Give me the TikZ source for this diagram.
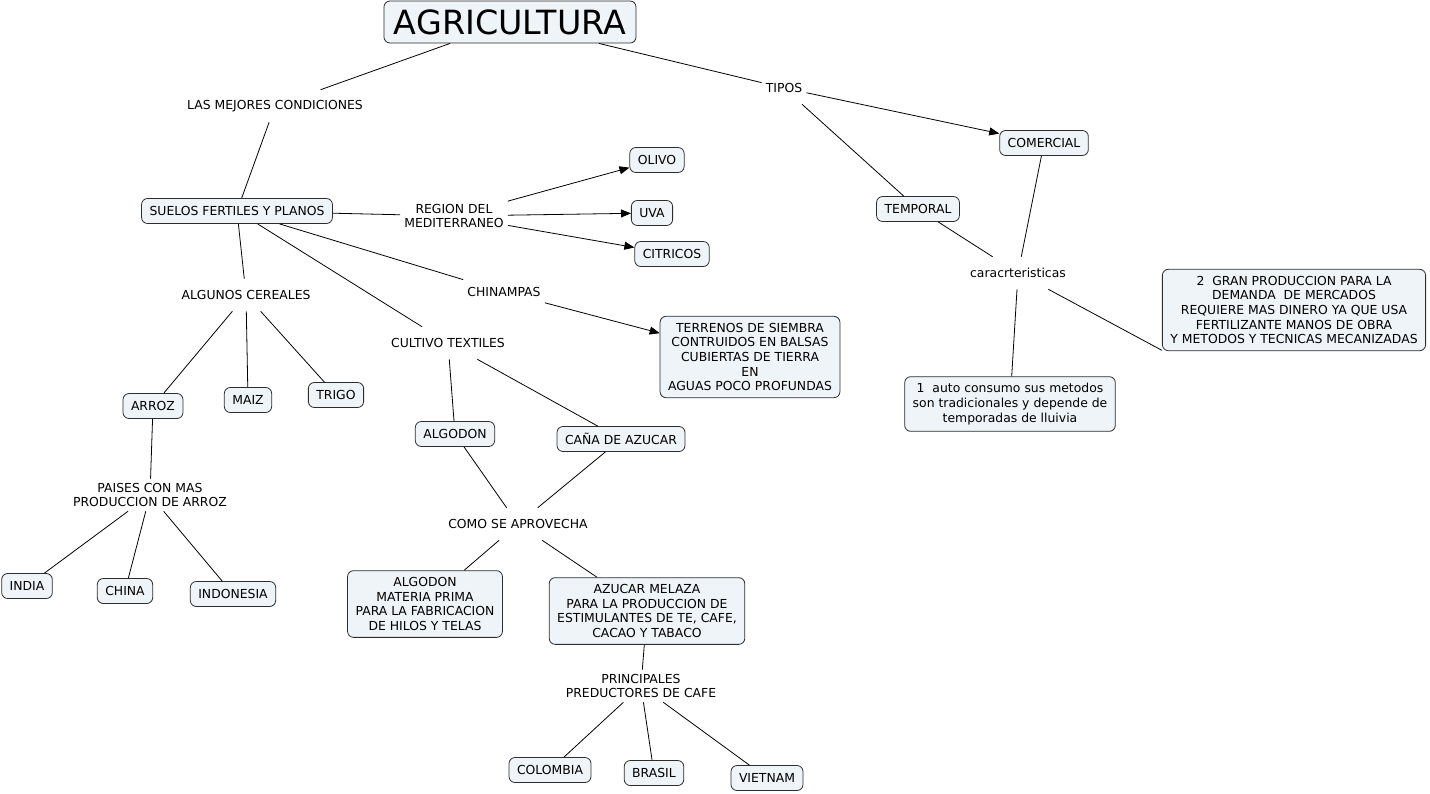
\documentclass[tikz,border=0pt]{standalone}
\usepackage{fontspec}
\setmainfont{DejaVu Sans}
\usetikzlibrary{arrows.meta}
\definecolor{boxfill}{RGB}{238,244,247}
\definecolor{boxline}{RGB}{45,45,45}
\tikzset{
  concept/.style={draw=boxline, fill=boxfill, rounded corners=4.5pt, line width=0.6pt,
    inner xsep=6pt, inner ysep=5pt, minimum height=18.75pt, align=center,
    font=\fontsize{9.3}{11}\selectfont},
  link/.style={inner xsep=3pt, inner ysep=1pt, minimum height=24pt, align=center,
    font=\fontsize{9.3}{11}\selectfont},
  conn/.style={draw=black, line width=0.6pt},
  arr/.style={conn, -{Triangle[length=7.5pt,width=6pt]}}
}
\begin{document}
\begin{tikzpicture}[x=0.75pt,y=-0.75pt]
\useasboundingbox (0,0) rectangle (1430,793);
% concepts
\node[concept, font=\fontsize{25}{29}\selectfont, inner xsep=7.5pt, inner ysep=3pt, minimum height=31.5pt] (agri) at (510,22) {AGRICULTURA};
\node[link] (mejores) at (275,106) {LAS MEJORES CONDICIONES};
\node[link] (tipos) at (784,88) {TIPOS};
\node[concept] (comercial) at (1044,143) {COMERCIAL};
\node[concept] (temporal) at (918,209) {TEMPORAL};
\node[link] (caract) at (1018,273) {caracrteristicas};
\node[concept] (dos) at (1294,310) {2\ \ GRAN PRODUCCION PARA LA\\DEMANDA\ \ DE MERCADOS\\REQUIERE MAS DINERO YA QUE USA\\FERTILIZANTE MANOS DE OBRA\\Y METODOS Y TECNICAS MECANIZADAS};
\node[concept] (uno) at (1010,404) {1\ \ auto consumo sus metodos\\son tradicionales y depende de\\temporadas de lluivia};
\node[concept] (suelos) at (237,211) {SUELOS FERTILES Y PLANOS};
\node[link] (region) at (454,216) {REGION DEL\\MEDITERRANEO};
\node[concept] (olivo) at (657,160) {OLIVO};
\node[concept] (uva) at (652,213) {UVA};
\node[concept] (citricos) at (672,254) {CITRICOS};
\node[link] (chinampas) at (504,292) {CHINAMPAS};
\node[concept] (terrenos) at (750,357) {TERRENOS DE SIEMBRA\\CONTRUIDOS EN BALSAS\\CUBIERTAS DE TIERRA\\EN\\AGUAS POCO PROFUNDAS};
\node[link] (cereales) at (246,295) {ALGUNOS CEREALES};
\node[link] (textiles) at (448,343) {CULTIVO TEXTILES};
\node[concept] (arroz) at (153,406) {ARROZ};
\node[concept] (maiz) at (248,400) {MAIZ};
\node[concept] (trigo) at (336,395) {TRIGO};
\node[link] (paises) at (150,495) {PAISES CON MAS\\PRODUCCION DE ARROZ};
\node[concept] (india) at (27,586) {INDIA};
\node[concept] (china) at (125,591) {CHINA};
\node[concept] (indonesia) at (233,594) {INDONESIA};
\node[concept] (algodon) at (455,434) {ALGODON};
\node[concept] (cana) at (621,439) {CAÑA DE AZUCAR};
\node[link] (como) at (518,524) {COMO SE APROVECHA};
\node[concept] (materia) at (425,604) {ALGODON\\MATERIA PRIMA\\PARA LA FABRICACION\\DE HILOS Y TELAS};
\node[concept] (azucar) at (647,611) {AZUCAR MELAZA\\PARA LA PRODUCCION DE\\ESTIMULANTES DE TE, CAFE,\\CACAO Y TABACO};
\node[link] (principales) at (641,686) {PRINCIPALES\\PREDUCTORES DE CAFE};
\node[concept] (colombia) at (550,770) {COLOMBIA};
\node[concept] (brasil) at (654,773) {BRASIL};
\node[concept] (vietnam) at (767,778) {VIETNAM};
% connectors
\draw[conn] (agri) -- (mejores);
\draw[conn] (mejores) -- (suelos);
\draw[conn] (agri) -- (tipos);
\draw[arr] (tipos) -- (comercial);
\draw[conn] (tipos) -- (temporal);
\draw[conn] (temporal) -- (caract);
\draw[conn] (comercial) -- (caract);
\draw[conn] (caract) -- (dos.197);
\draw[conn] (caract) -- (uno);
\draw[conn] (suelos) -- (region);
\draw[arr] (region) -- (olivo);
\draw[arr] (region) -- (uva);
\draw[arr] (region) -- (citricos);
\draw[conn] (suelos) -- (chinampas);
\draw[arr] (chinampas) -- (terrenos);
\draw[conn] (suelos) -- (cereales);
\draw[conn] (suelos) -- (textiles);
\draw[conn] (cereales) -- (arroz);
\draw[conn] (cereales) -- (maiz);
\draw[conn] (cereales) -- (trigo);
\draw[conn] (arroz) -- (paises);
\draw[conn] (paises) -- (india);
\draw[conn] (paises) -- (china);
\draw[conn] (paises) -- (indonesia);
\draw[conn] (textiles) -- (algodon);
\draw[conn] (textiles) -- (cana);
\draw[conn] (algodon) -- (como);
\draw[conn] (cana) -- (como);
\draw[conn] (como) -- (materia);
\draw[conn] (como) -- (azucar);
\draw[conn] (azucar) -- (principales);
\draw[conn] (principales) -- (colombia);
\draw[conn] (principales) -- (brasil);
\draw[conn] (principales) -- (vietnam);
\end{tikzpicture}
\end{document}
